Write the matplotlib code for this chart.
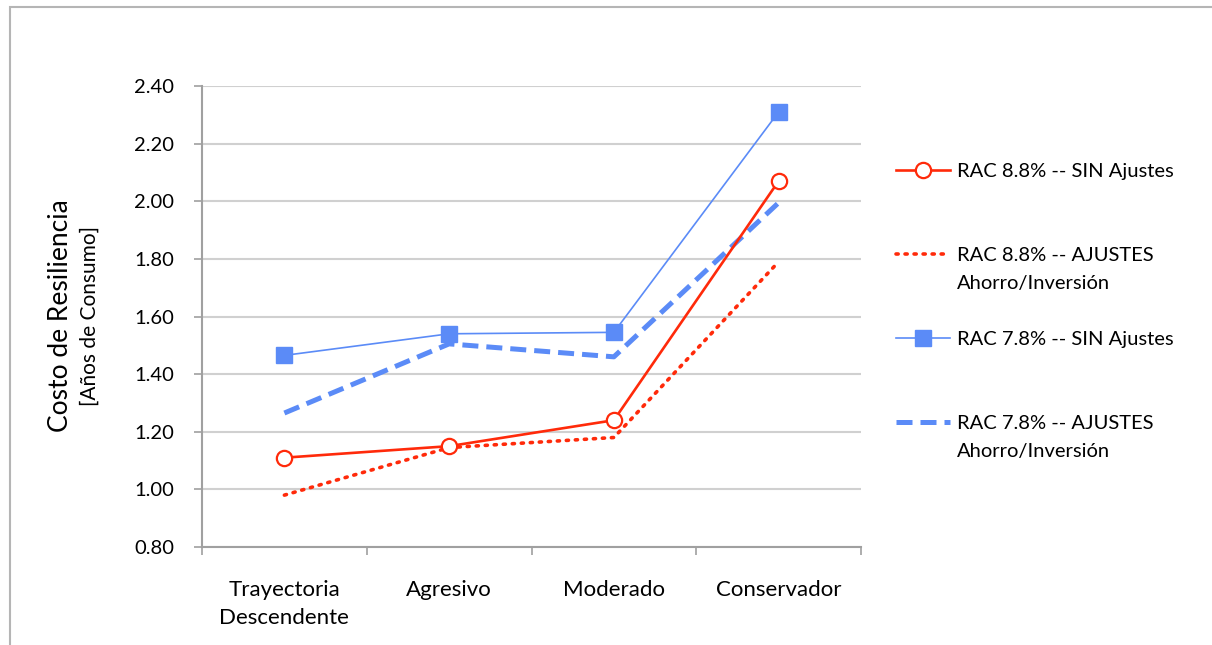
import matplotlib.pyplot as plt
from matplotlib.patches import Rectangle

plt.rcParams['font.family'] = ['Lato', 'DejaVu Sans']

categorias = ['Trayectoria\nDescendente', 'Agresivo', 'Moderado', 'Conservador']
rac88_sin = [1.11, 1.15, 1.24, 2.07]
rac88_ajustes = [0.98, 1.145, 1.18, 1.79]
rac78_sin = [1.465, 1.54, 1.545, 2.31]
rac78_ajustes = [1.265, 1.505, 1.46, 1.995]
y_ticks = [0.80, 1.00, 1.20, 1.40, 1.60, 1.80, 2.00, 2.20, 2.40]
etiquetas = ['RAC 8.8% -- SIN Ajustes', 'RAC 8.8% -- AJUSTES',
             'RAC 7.8% -- SIN Ajustes', 'RAC 7.8% -- AJUSTES']
segunda_linea = ['', 'Ahorro/Inversión', '', 'Ahorro/Inversión']

rojo = '#ff2a0a'
azul = '#5b8bf7'

fig = plt.figure(figsize=(12.12, 6.45), dpi=100)
# marco gris del area del grafico
fig.patches.append(Rectangle((10/1212, -0.01), 1.0, 1 - 7/645 + 0.01,
                             transform=fig.transFigure, fill=False,
                             edgecolor='#b5b5b5', linewidth=1.5))
ax = fig.add_axes([202/1212, 1 - 547/645, (861-202)/1212, (547-86)/645])

x = range(len(categorias))
ax.plot(x, rac88_sin, color=rojo, lw=1.9, marker='o', ms=11,
        mfc='white', mec=rojo, mew=1.6, label=etiquetas[0], zorder=5)
ax.plot(x, rac88_ajustes, color=rojo, lw=2.6, linestyle=(0, (0.6, 1.9)),
        dash_capstyle='round', label=etiquetas[1], zorder=4)
ax.plot(x, rac78_sin, color=azul, lw=1.2, marker='s', ms=11,
        mec=azul, mfc=azul, label=etiquetas[2], zorder=3)
ax.plot(x, rac78_ajustes, color=azul, lw=3.6, linestyle=(0, (3.2, 1.6)),
        label=etiquetas[3], zorder=2)

ax.set_xlim(-0.5, 3.5)
ax.set_ylim(0.80, 2.40)
ax.set_yticks(y_ticks)
ax.set_yticklabels(['%.2f' % v for v in y_ticks], fontsize=14.5)
ax.set_xticks(list(x))
ax.set_xticklabels(categorias, fontsize=16, linespacing=1.45)
ax.set_xticks([-0.5, 0.5, 1.5, 2.5, 3.5], minor=True)
ax.tick_params(axis='x', which='major', length=0, pad=24)
ax.tick_params(axis='x', which='minor', length=6, color='#a0a0a0', width=1.2, direction='out')
ax.tick_params(axis='y', length=6, color='#a0a0a0', width=1.2, pad=14)

ax.grid(axis='y', color='#d0d0d0', lw=1.5)
ax.set_axisbelow(True)
for s in ['top', 'right']:
    ax.spines[s].set_visible(False)
for s in ['left', 'bottom']:
    ax.spines[s].set_color('#a0a0a0')
    ax.spines[s].set_linewidth(1.5)

fig.text(60/1212, 1 - 316/645, 'Costo de Resiliencia', rotation=90,
         fontsize=19, ha='center', va='center')
fig.text(90/1212, 1 - 316/645, '[Años de Consumo]', rotation=90,
         fontsize=15, ha='center', va='center')

leg = fig.legend(loc='upper left', bbox_to_anchor=(896/1212, 1 - 163/645),
                 frameon=False, fontsize=14.5, labelspacing=3.32, handlelength=2.7,
                 handletextpad=0.35, borderpad=0, borderaxespad=0)

# segunda linea de las etiquetas largas, debajo del texto de la leyenda
fig.canvas.draw()
inv = fig.transFigure.inverted()
for t, extra in zip(leg.get_texts(), segunda_linea):
    if extra:
        bb = t.get_window_extent()
        x0, y0 = inv.transform((bb.x0, bb.y0 - 28))
        fig.text(x0, y0, extra, fontsize=14.5, ha='left', va='bottom')

fig.savefig('out.png', dpi=100)
